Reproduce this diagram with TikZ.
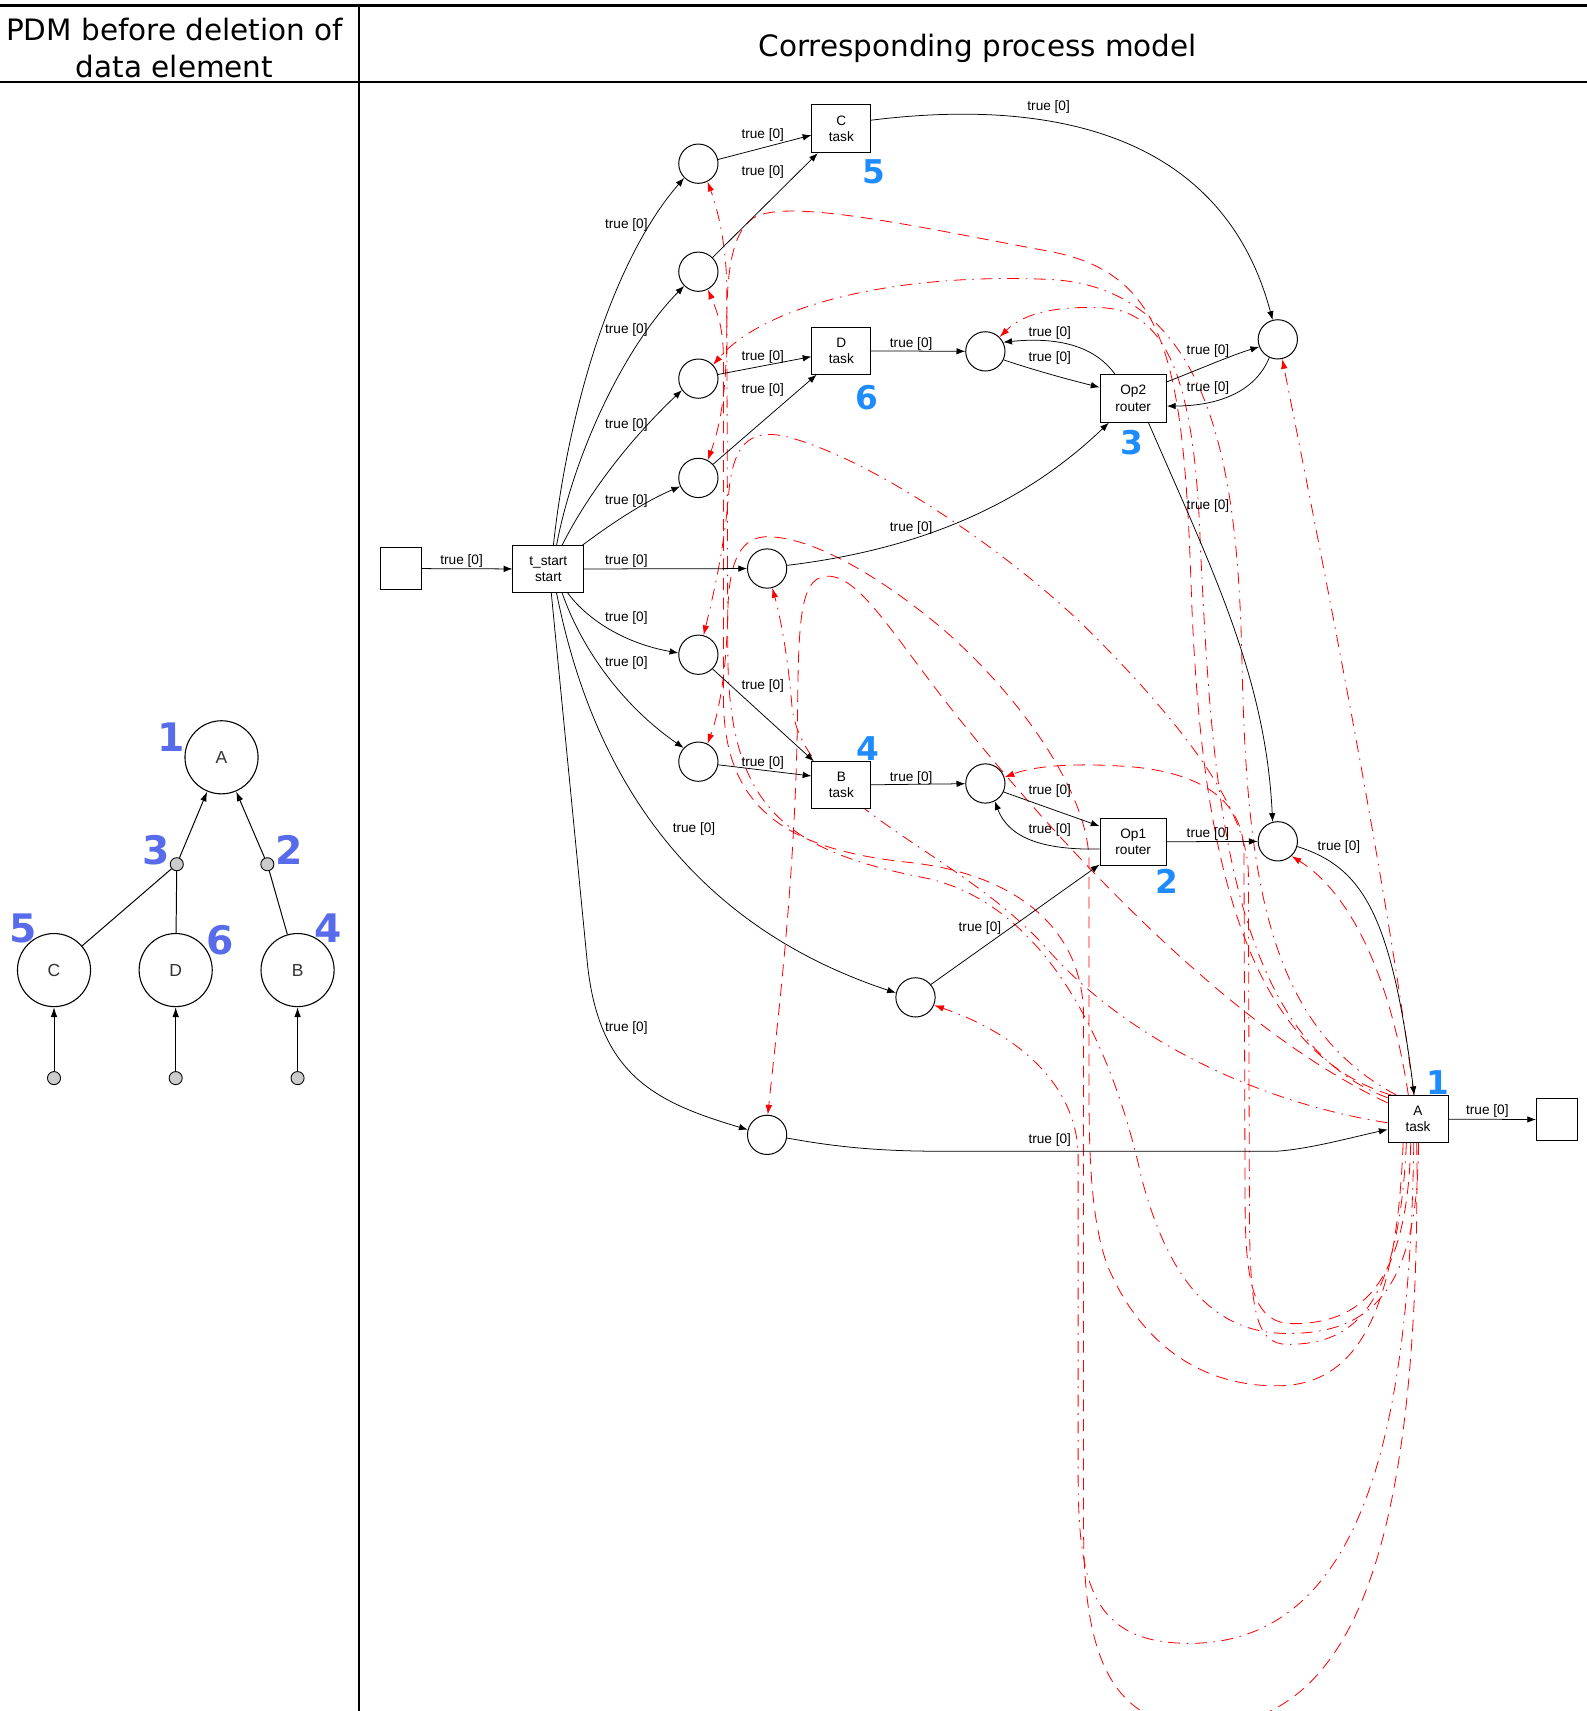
\documentclass[tikz,border=0pt]{standalone}
\usepackage{fontspec}
\setmainfont{DejaVu Sans}
\newfontfamily\labfont{Liberation Sans}
\usetikzlibrary{arrows.meta}
\pgfdeclarelayer{bg}
\pgfsetlayers{bg,main}
\definecolor{pdmblue}{RGB}{88,108,235}
\definecolor{pmblue}{RGB}{30,140,255}
\begin{document}
\begin{tikzpicture}[x=1pt,y=-1pt,
  place/.style={draw,circle,fill=white,minimum size=36pt,inner sep=0pt,line width=0.9pt},
  trans/.style={draw,rectangle,fill=white,line width=0.8pt,inner sep=0pt,align=center,font=\labfont\fontsize{12.5}{15}\selectfont},
  lbl/.style={font=\labfont\fontsize{12.5}{14}\selectfont,inner sep=0pt},
  arc/.style={line width=0.7pt,-{Latex[length=8pt,width=6pt]}},
  dep/.style={draw=red,line width=0.75pt,dash pattern=on 11pt off 6pt on 1.5pt off 6pt,-{Latex[length=9pt,width=6pt]}},
  depb/.style={draw=red,line width=0.75pt,dash pattern=on 11pt off 7pt,-{Latex[length=9pt,width=6pt]}},
  pmnum/.style={font=\bfseries\fontsize{30}{30}\selectfont,text=pmblue,inner sep=0pt},
  pdmnum/.style={font=\bfseries\fontsize{36}{36}\selectfont,text=pdmblue,inner sep=0pt},
  dnode/.style={draw,circle,fill=white,minimum size=67pt,inner sep=0pt,line width=1pt,font=\labfont\fontsize{16}{16}\selectfont,text=black!80},
  opnode/.style={draw,circle,fill=black!20,minimum size=12pt,inner sep=0pt,line width=0.8pt},
  pdmarr/.style={line width=0.9pt,-{Latex[length=9pt,width=6pt]}},
  hdr/.style={font=\fontsize{27}{34}\selectfont,inner sep=0pt,align=center}
]
\useasboundingbox (0,0) rectangle (1454,1568);

% table
\draw[line width=2pt] (0,5) -- (1454,5);
\draw[line width=2pt] (0,75) -- (1454,75);
\draw[line width=1.3pt] (329,5) -- (329,1568);
\node[hdr] (h1) at (160,44) {PDM before deletion of\\data element};
\node[hdr] (h2) at (896,44) {Corresponding process model};

% ---------------- PDM ----------------
\node[dnode] (pA) at (203,694) {A};
\node[dnode] (pC) at (49.5,889) {C};
\node[dnode] (pD) at (161,889) {D};
\node[dnode] (pB) at (272.7,889) {B};
\node[opnode] (o3) at (162,792) {};
\node[opnode] (o2) at (245,792) {};
\node[opnode] (b1) at (49.5,988) {};
\node[opnode] (b2) at (161,988) {};
\node[opnode] (b3) at (272.7,988) {};
\draw[pdmarr] (o3) -- (pA);
\draw[pdmarr] (o2) -- (pA);
\draw[line width=0.9pt] (pC) -- (o3);
\draw[line width=0.9pt] (pD) -- (o3);
\draw[line width=0.9pt] (pB) -- (o2);
\draw[pdmarr] (b1) -- (pC);
\draw[pdmarr] (b2) -- (pD);
\draw[pdmarr] (b3) -- (pB);
\node[pdmnum] (n1) at (157,676) {1};
\node[pdmnum] (n3) at (143,779) {3};
\node[pdmnum] (n2) at (265,779) {2};
\node[pdmnum] (n5) at (21,851) {5};
\node[pdmnum] (n6) at (202,862) {6};
\node[pdmnum] (n4) at (301,851) {4};

% ---------------- process model nodes ----------------
\node[draw,fill=white,minimum size=38pt,inner sep=0pt,line width=0.8pt] (s) at (367.5,521) {};
\node[trans,minimum width=65pt,minimum height=43pt] (tstart) at (502.5,521.5) {t\_start\\start};
\node[place] (c1) at (640,150) {};
\node[place] (c2) at (640,249) {};
\node[place] (c3) at (640,347) {};
\node[place] (c4) at (640,438) {};
\node[place] (cmid) at (703,521) {};
\node[place] (c5) at (640,600) {};
\node[place] (c6) at (640,698) {};
\node[place] (clow) at (839,914) {};
\node[place] (cbot) at (703,1040) {};
\node[trans,minimum width=54pt,minimum height=44pt] (C) at (771,118) {C\\task};
\node[trans,minimum width=54pt,minimum height=43pt] (D) at (771,321.5) {D\\task};
\node[trans,minimum width=54pt,minimum height=43pt] (B) at (771,719.5) {B\\task};
\node[place] (circD) at (903,322) {};
\node[place] (circB) at (903,718) {};
\node[trans,minimum width=61pt,minimum height=44pt] (Op2) at (1038.5,365) {Op2\\router};
\node[trans,minimum width=61pt,minimum height=43pt] (Op1) at (1038.5,771.5) {Op1\\router};
\node[place] (rt) at (1171,311) {};
\node[place] (rb) at (1171,771) {};
\node[trans,minimum width=55pt,minimum height=43pt] (A) at (1299.5,1025.5) {A\\task};
\node[draw,fill=white,minimum size=38pt,inner sep=0pt,line width=0.8pt] (e) at (1427,1026) {};

% ---------------- black arcs ----------------
\draw[arc] (s) -- (tstart);
\draw[arc] (tstart.78) .. controls (520,380) and (560,240) .. (c1.225);
\draw[arc] (tstart.71) .. controls (525,420) and (570,320) .. (c2.225);
\draw[arc] (tstart.60) .. controls (540,450) and (580,400) .. (c3.215);
\draw[arc] (tstart.35) .. controls (560,480) and (590,460) .. (c4.205);
\draw[arc] (tstart) -- (cmid);
\draw[arc] (tstart.-51) .. controls (540,570) and (575,590) .. (c5.175);
\draw[arc] (tstart.-60) .. controls (535,600) and (575,650) .. (c6.137);
\draw[arc] (tstart.-71) .. controls (545,720) and (640,850) .. (clow.167);
\draw[arc] (tstart.-83) -- (538,880) .. controls (548,985) and (600,1010) .. (cbot.165);
\draw[arc] (c1.12) -- (C.192);
\draw[arc] (c2.45) -- (C.226);
\draw[arc] (c3.12) -- (D.191);
\draw[arc] (c4.43) -- (D.224);
\draw[arc] (c5.-45) -- (B.139);
\draw[arc] (c6.-9) -- (B.163);
\draw[arc] (C.16) .. controls (960,90) and (1120,120) .. (rt.105);
\draw[arc] (D) -- (circD);
\draw[arc] (circD.-25) .. controls (950,340) and (980,348) .. (Op2.162);
\draw[arc] (Op2.127) .. controls (1005,320) and (975,308) .. (circD.27);
\draw[arc] (Op2.26) .. controls (1095,340) and (1130,325) .. (rt.202);
\draw[arc] (rt.245) .. controls (1150,360) and (1115,372) .. (Op2.-13);
\draw[arc] (Op2.-58) .. controls (1110,520) and (1160,620) .. (rb.105);
\draw[arc] (cmid.9) .. controls (830,505) and (930,470) .. (Op2.225);
\draw[arc] (B) -- (circB);
\draw[arc] (circB.-25) -- (Op1.155);
\draw[arc] (Op1.192) .. controls (960,779) and (925,770) .. (circB.-62);
\draw[arc] (clow.40) -- (Op1.214);
\draw[arc] (Op1) -- (rb);
\draw[arc] (rb.-15) .. controls (1250,795) and (1275,840) .. (A.99);
\draw[arc] (cbot.-9) .. controls (760,1050) and (800,1055) .. (860,1055) -- (1170,1055) .. controls (1200,1053) and (1240,1042) .. (A.199);
\draw[arc] (A) -- (e);

% ---------------- labels ----------------
\node[lbl] (l1) at (423,514) {true [0]};
\node[lbl] (l2) at (574,206) {true [0]};
\node[lbl] (l3) at (574,302) {true [0]};
\node[lbl] (l4) at (574,389) {true [0]};
\node[lbl] (l5) at (574,459) {true [0]};
\node[lbl] (l6) at (574,514) {true [0]};
\node[lbl] (l7) at (574,566) {true [0]};
\node[lbl] (l8) at (574,608) {true [0]};
\node[lbl] (l9) at (636,760) {true [0]};
\node[lbl] (l10) at (574,942) {true [0]};
\node[lbl] (l11) at (699,124) {true [0]};
\node[lbl] (l12) at (699,158) {true [0]};
\node[lbl] (l13) at (699,327) {true [0]};
\node[lbl] (l14) at (699,357) {true [0]};
\node[lbl] (l15) at (699,629) {true [0]};
\node[lbl] (l16) at (699,699) {true [0]};
\node[lbl] (l17) at (835,315) {true [0]};
\node[lbl] (l18) at (962,305) {true [0]};
\node[lbl] (l19) at (962,328) {true [0]};
\node[lbl] (l20) at (835,484) {true [0]};
\node[lbl] (l21) at (1107,322) {true [0]};
\node[lbl] (l22) at (1107,356) {true [0]};
\node[lbl] (l23) at (1107,464) {true [0]};
\node[lbl] (l24) at (961,98) {true [0]};
\node[lbl] (l25) at (835,713) {true [0]};
\node[lbl] (l26) at (962,725) {true [0]};
\node[lbl] (l27) at (962,761) {true [0]};
\node[lbl] (l28) at (898,850) {true [0]};
\node[lbl] (l29) at (1107,764) {true [0]};
\node[lbl] (l30) at (1227,776) {true [0]};
\node[lbl] (l31) at (962,1045) {true [0]};
\node[lbl] (l32) at (1363,1018) {true [0]};

% numbers
\node[pmnum] (m5) at (801,157) {5};
\node[pmnum] (m6) at (794,364) {6};
\node[pmnum] (m3) at (1037,406) {3};
\node[pmnum] (m4) at (795,686) {4};
\node[pmnum] (m2) at (1069,808) {2};
\node[pmnum] (m1) at (1318,992) {1};

% ---------------- red dependency arcs ----------------
\begin{pgfonlayer}{bg}
\draw[dep] (A.100) .. controls (1270,800) and (1205,480) .. (rt.-77);
\draw[depb] (A.112) .. controls (1275,900) and (1240,820) .. (rb.-47);
\draw[dep] (A.132) .. controls (1160,940) and (1142,800) .. (1138,600) .. controls (1134,430) and (1110,262) .. (960,256) .. controls (820,250) and (700,280) .. (c3.43);
\draw[depb] (A.138) .. controls (1130,960) and (1100,750) .. (1092,550) .. controls (1085,330) and (1070,250) .. (960,230) .. controls (850,210) and (720,180) .. (690,200) .. controls (668,215) and (666,260) .. (666,300) .. controls (666,360) and (660,390) .. (c4.62);
\draw[dep] (A.145) .. controls (1120,950) and (1110,700) .. (1100,500) .. controls (1095,350) and (1070,285) .. (1010,282) .. controls (960,280) and (935,290) .. (circD.45);
\draw[depb] (A.-107) .. controls (1290,1180) and (1245,1213) .. (1185,1213) .. controls (1150,1213) and (1141,1180) .. (1141,1100) -- (1140,780) .. controls (1139,740) and (1110,710) .. (1040,703) .. controls (980,698) and (945,703) .. (circB.18);
\draw[dep] (A.-116) .. controls (1282,1200) and (1240,1232) .. (1180,1232) .. controls (1150,1232) and (1145,1200) .. (1145,1100) -- (1144,800) .. controls (1143,740) and (1080,660) .. (1000,580) .. controls (930,510) and (800,420) .. (720,400) .. controls (685,392) and (672,410) .. (668,450) .. controls (664,500) and (655,540) .. (c5.75);
\draw[depb] (A.-122) .. controls (1280,1210) and (1240,1270) .. (1170,1270) .. controls (1090,1270) and (1040,1220) .. (1015,1160) .. controls (1000,1120) and (998,1060) .. (998,1000) -- (998,790) .. controls (998,720) and (920,620) .. (850,565) .. controls (800,525) and (740,490) .. (700,492) .. controls (676,494) and (668,520) .. (667,560) .. controls (666,610) and (660,650) .. (c6.63);
\draw[dep] (A.187) .. controls (1150,1010) and (1030,950) .. (960,870) .. controls (880,780) and (740,740) .. (726,650) .. controls (722,600) and (715,565) .. (cmid.-75);
\draw[depb] (A.152) .. controls (1120,940) and (960,760) .. (880,660) .. controls (820,585) and (790,530) .. (760,528) .. controls (735,527) and (732,560) .. (731,640) .. controls (730,800) and (712,940) .. (cbot.88);
\draw[dep] (A.-89) .. controls (1300,1190) and (1250,1222) .. (1180,1222) .. controls (1110,1222) and (1070,1170) .. (1046,1079) .. controls (1020,960) and (960,830) .. (850,805) .. controls (720,780) and (668,740) .. (667,600) -- (666,260) .. controls (665,220) and (657,190) .. (c1.-63);
\draw[depb] (A.-93) .. controls (1302,1420) and (1240,1582) .. (1100,1582) .. controls (1010,1582) and (993,1500) .. (993,1400) -- (993,930) .. controls (992,850) and (930,800) .. (830,790) .. controls (720,778) and (663,740) .. (663,640) -- (663,330) .. controls (663,300) and (657,285) .. (c2.-62);
\draw[dep] (A.-100) .. controls (1292,1280) and (1260,1506) .. (1090,1506) .. controls (1000,1506) and (988,1450) .. (988,1350) -- (988,1060) .. controls (988,1000) and (940,950) .. (clow.-23);
\end{pgfonlayer}
\end{tikzpicture}
\end{document}
